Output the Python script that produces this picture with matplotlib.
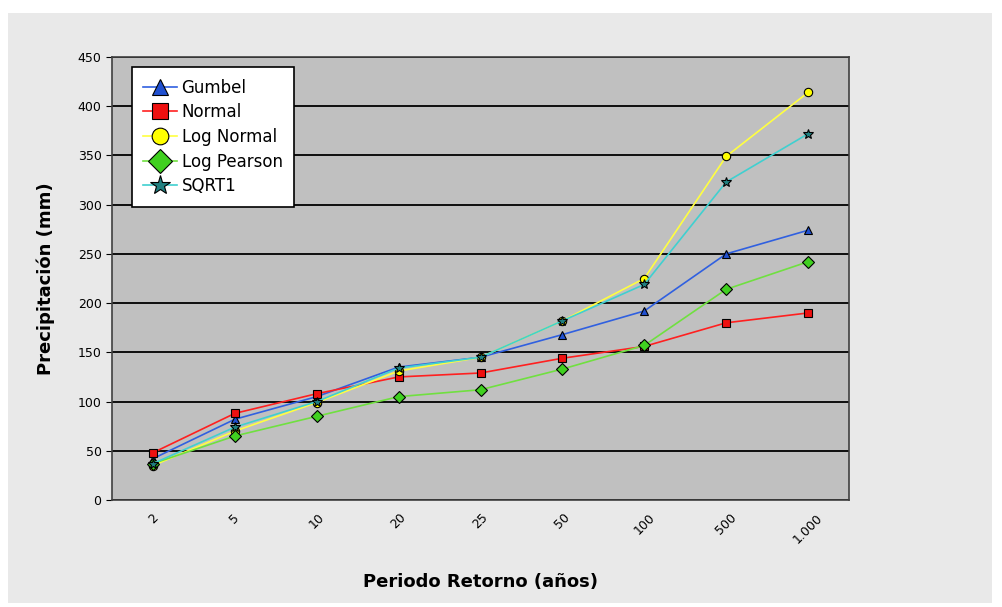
import numpy as np
import matplotlib
matplotlib.use("Agg")
from matplotlib import pyplot as plt
from matplotlib.patches import Rectangle

# datos
periodos = ["2", "5", "10", "20", "25", "50", "100", "500", "1.000"]
gumbel = [42, 82, 105, 135, 145, 168, 192, 250, 274]
normal = [48, 88, 108, 125, 129, 144, 156, 180, 190]
log_normal = [35, 70, 99, 131, 145, 182, 225, 349, 414]
log_pearson = [37, 65, 85, 105, 112, 133, 157, 214, 242]
sqrt1 = [37, 74, 100, 134, 145, 182, 219, 323, 372]

series = [
    ("Gumbel", gumbel, "#3060e0", "^", "#2050d0"),
    ("Normal", normal, "#ff2020", "s", "#ee1010"),
    ("Log Normal", log_normal, "#ffff40", "o", "#ffff00"),
    ("Log Pearson", log_pearson, "#70e040", "D", "#40d020"),
    ("SQRT1", sqrt1, "#40d0d0", "*", "#208080"),
]

fig = plt.figure(figsize=(10.02, 6.07), dpi=100)
fig.patch.set_facecolor("white")
fig.patches.append(Rectangle((8 / 1002, 4 / 607), 984 / 1002, 590 / 607,
                             transform=fig.transFigure, facecolor="#e9e9e9",
                             edgecolor="none", zorder=-10))

ax = fig.add_axes([112 / 1002, 107 / 607, 737 / 1002, 443 / 607])
ax.set_facecolor("#c0c0c0")

x = np.arange(len(periodos))
for nombre, vals, col, mk, mcol in series:
    ax.plot(x, vals, color=col, lw=1.2, marker=mk, markersize=6 if mk != "*" else 7.5,
            markerfacecolor=mcol, markeredgecolor="black", markeredgewidth=0.8,
            label=nombre, zorder=3)

ax.set_xlim(-0.5, len(periodos) - 0.5)
ax.set_ylim(0, 450)
ax.set_yticks(np.arange(0, 451, 50))
ax.yaxis.grid(True, color="black", lw=1.3)
ax.set_axisbelow(True)
ax.set_xticks(x)
ax.set_xticklabels(periodos, rotation=45, fontsize=9)
ax.tick_params(axis="y", labelsize=9, length=4)
ax.tick_params(axis="x", length=0, pad=8)
for s in ax.spines.values():
    s.set_color("#404040")
    s.set_linewidth(1.2)

ax.set_ylabel("Precipitación (mm)", fontsize=13, fontweight="bold", labelpad=16)
ax.set_xlabel("Periodo Retorno (años)", fontsize=13, fontweight="bold", labelpad=20)

leg = ax.legend(loc="upper left", bbox_to_anchor=(0.022, 0.985), fontsize=12,
                frameon=True, fancybox=False, markerscale=2.0, handlelength=2.0,
                borderpad=0.7, labelspacing=0.4, handletextpad=0.3,
                borderaxespad=0.2)
leg.get_frame().set_edgecolor("black")
leg.get_frame().set_linewidth(1.2)
leg.get_frame().set_alpha(1)

fig.savefig("out.png", dpi=100)
